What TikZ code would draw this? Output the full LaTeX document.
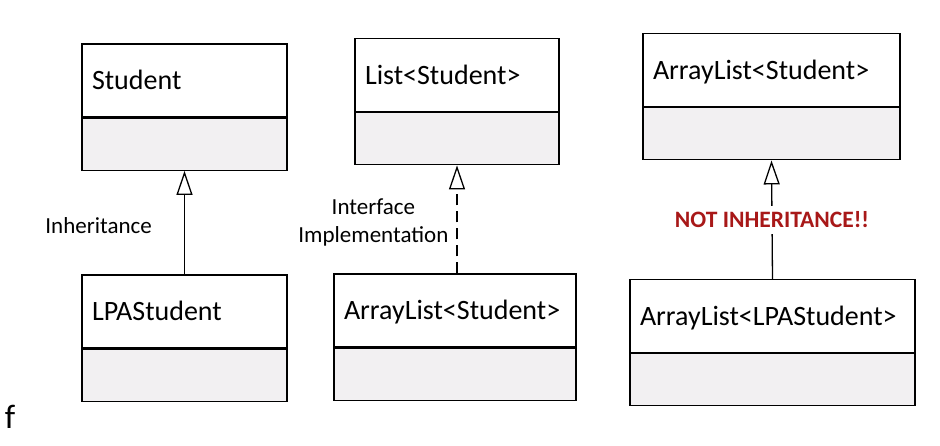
\documentclass[tikz,border=0pt]{standalone}
\usepackage{fontspec}
\setmainfont{Carlito}
\definecolor{BodyGray}{RGB}{242,240,242}
\definecolor{WarnRed}{RGB}{168,24,24}
\usetikzlibrary{positioning, arrows.meta}

\begin{document}
\begin{tikzpicture}[x=1pt, y=-1pt, line width=1.3pt,
    classname/.style={draw, text width=#1, align=left, inner xsep=10pt, minimum height=73pt,
      text height=18pt, text depth=0pt, font=\fontsize{28}{33}\selectfont},
    classbody/.style={draw, fill=BodyGray, minimum width=#1, minimum height=52pt, inner sep=0pt},
    relation/.style={-{Triangle[open, length=24pt, width=16pt]}},
    relnote/.style={inner sep=2pt, font=\fontsize{23}{28}\selectfont}]
  \useasboundingbox (0,0) rectangle (940,445);

  \node[classname=185pt] (student) at (184.5,80.5) {Student};
  \node[classbody=205pt, below=0pt of student] (student-body) {};
  \node[classname=185pt] (lpastudent) at (184.5,311.5) {LPAStudent};
  \node[classbody=205pt, below=0pt of lpastudent] (lpastudent-body) {};

  \node[classname=184pt] (list) at (457,75) {List<Student>};
  \node[classbody=204pt, below=0pt of list] (list-body) {};
  \node[classname=222pt] (arraylist) at (455,310.5) {ArrayList<Student>};
  \node[classbody=242pt, below=0pt of arraylist] (arraylist-body) {};

  \node[classname=237pt] (arraylist-student) at (771.5,70) {ArrayList<Student>};
  \node[classbody=257pt, below=0pt of arraylist-student] (arraylist-student-body) {};
  \node[classname=265pt] (arraylist-lpa) at (772.5,316) {ArrayList<LPAStudent>};
  \node[classbody=285pt, below=0pt of arraylist-lpa] (arraylist-lpa-body) {};

  \draw[relation] (lpastudent.north) -- node[relnote, left=30pt, yshift=-3pt] {Inheritance} (student-body.south);
  \draw[relation, dash pattern=on 11pt off 6pt] (list-body.south |- arraylist.north)
    -- node[relnote, left=6pt, yshift=-3pt, align=center] {Interface\\Implementation} (list-body.south);
  \draw[relation] (arraylist-lpa.north) -- node[relnote, fill=white, inner ysep=6pt, text=WarnRed,
    font=\bfseries\fontsize{23.5}{28}\selectfont] {NOT INHERITANCE!!} (arraylist-student-body.south);

  \node[font=\fontsize{34}{40}\selectfont] (stray) at (10,417) {f};
\end{tikzpicture}
\end{document}
